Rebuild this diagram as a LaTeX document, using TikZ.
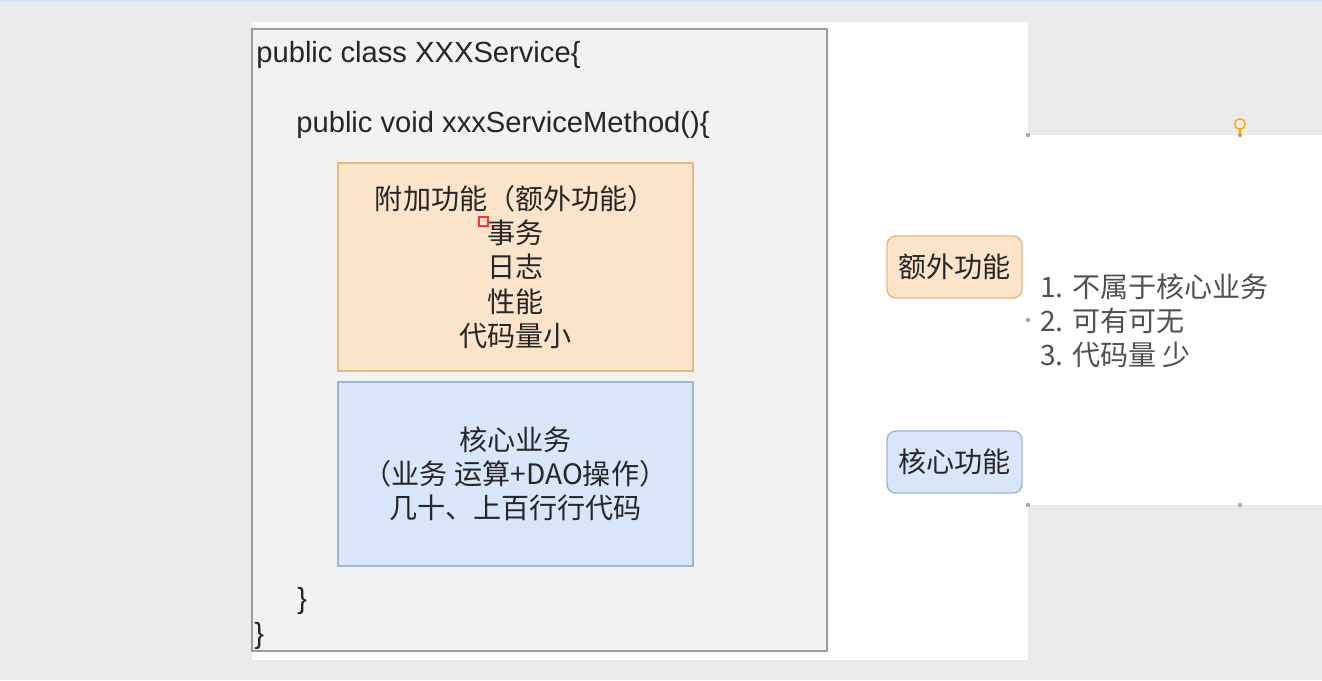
\documentclass[tikz,border=0pt]{standalone}
\usepackage{fontspec}
\usepackage{xcolor}
\usepackage{tikz}
\setmainfont{Liberation Sans}
\newfontfamily\cjk{Noto Sans CJK SC}

\definecolor{slidebg}{HTML}{EBEBEB}
\definecolor{topline}{HTML}{CFE2F7}
\definecolor{codefill}{HTML}{F2F2F2}
\definecolor{codeline}{HTML}{9A9A9A}
\definecolor{extrafill}{HTML}{FCE4CA}
\definecolor{extraline}{HTML}{E8B77E}
\definecolor{corefill}{HTML}{D8E6FA}
\definecolor{coreline}{HTML}{9DB5D9}
\definecolor{inktext}{HTML}{262626}
\definecolor{listtext}{HTML}{505050}

\begin{document}
\begin{tikzpicture}[
    x=0.02cm,
    y=-0.02cm,
    every node/.style={font=\fontsize{16}{19.5}\selectfont, text=inktext},
    codebox/.style={draw=codeline, line width=1.1pt, fill=codefill, minimum width=11.5cm, minimum height=12.44cm},
    code/.style={anchor=west, inner sep=0pt, font=\fontsize{16.6}{19.5}\selectfont},
    box/.style={minimum width=7.1cm, align=center, line width=0.8pt},
    extra/.style={box, draw=extraline, fill=extrafill, minimum height=4.16cm},
    core/.style={box, draw=coreline, fill=corefill, minimum height=3.68cm},
    tag/.style={rounded corners=5pt, minimum width=2.7cm, minimum height=1.24cm, line width=0.8pt, font=\cjk\fontsize{16}{19.5}\selectfont},
    handle/.style={fill=gray!70, inner sep=0pt, minimum size=2.5pt, circle}
]
% slide background
\fill[slidebg] (0,0) rectangle (1322,680);
\fill[topline] (0,0) rectangle (1322,2);
\fill[white] (252,22) rectangle (1028,660);

% the service class
\node[codebox] (cls) at (539.5,340) {};
\node[code] (head) at (256,55) {public class XXXService\{};
\node[code] (meth) at (296,125) {public void xxxServiceMethod()\{};
\node[code] (mend) at (297,601) {\}};
\node[code] (cend) at (254,636) {\}};

\node[extra] (add) at (515.5,267) {\cjk 附加功能（额外功能）\\ \cjk 事务\\ \cjk 日志\\ \cjk 性能\\ \cjk 代码量小};
\node[core] (biz) at (515.5,474) {\cjk 核心业务\\ \cjk （业务 运算+DAO操作）\\ \cjk 几十、上百行行代码};
\draw[red!80, line width=0.6pt] (479,217) rectangle (488,226);

% legend
\node[tag, draw=extraline, fill=extrafill] (tagextra) at (954.5,267) {额外功能};
\node[tag, draw=coreline, fill=corefill] (tagcore) at (954.5,462) {核心功能};

% text panel
\fill[white] (1028,135) rectangle (1322,505);
\node[anchor=west, inner sep=0pt, align=left, text=listtext, font=\cjk\fontsize{16}{19.5}\selectfont] (notes) at (1040,321)
  {1. 不属于核心业务\\2. 可有可无\\3. 代码量 少};

\foreach \p in {(1028,135),(1240,135),(1028,320),(1028,505),(1240,505)}
  \node[handle] at \p {};
\draw[orange!70!yellow, line width=0.8pt] (1240,124) circle (3pt);
\draw[orange!70!yellow, line width=0.8pt] (1240,128) -- (1240,135);
\end{tikzpicture}
\end{document}
